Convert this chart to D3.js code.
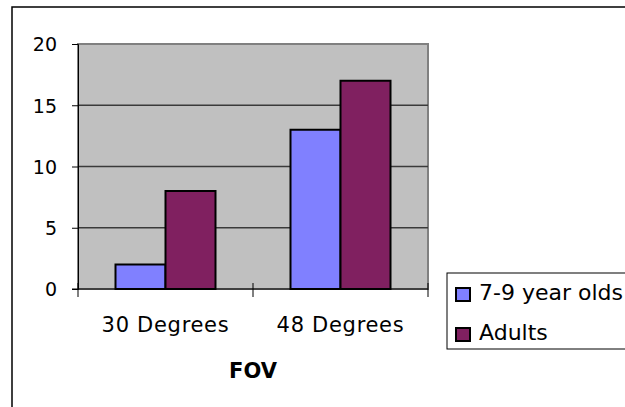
<!DOCTYPE html>
<html>
<head>
<meta charset="utf-8">
<script src="https://cdn.jsdelivr.net/npm/d3@7"></script>
<style>
  html, body { margin: 0; padding: 0; background: #fff; }
  svg { display: block; }
  text { font-family: "DejaVu Sans", Verdana, sans-serif; fill: #000; }
</style>
</head>
<body>
<svg id="chart" width="625" height="407"></svg>
<script>
// Chart data
const categories = ["30 Degrees", "48 Degrees"];
const seriesNames = ["7-9 year olds", "Adults"];
const kids = [2, 13];
const adults = [8, 17];
const yTicks = [0, 5, 10, 15, 20];
const xTitle = "FOV";
const colors = ["#8080FF", "#802060"];

const svg = d3.select("#chart");

// Outer chart frame (only top and left edges fall inside the view)
svg.append("rect")
  .attr("x", 12).attr("y", 7)
  .attr("width", 700).attr("height", 500)
  .attr("fill", "none").attr("stroke", "#000").attr("stroke-width", 1.5);

const plot = { left: 78, top: 44, right: 428, bottom: 289 };

const x = d3.scaleBand()
  .domain(categories)
  .range([plot.left, plot.right])
  .paddingInner(0).paddingOuter(0);

const x1 = d3.scaleBand()
  .domain(seriesNames)
  .range([0, x.bandwidth()])
  .paddingInner(0)
  .paddingOuter(0.75);

const y = d3.scaleLinear().domain([0, 20]).range([plot.bottom, plot.top]);

// Plot area
svg.append("rect")
  .attr("x", plot.left).attr("y", plot.top)
  .attr("width", plot.right - plot.left).attr("height", plot.bottom - plot.top)
  .attr("fill", "#C0C0C0").attr("stroke", "#808080").attr("stroke-width", 2);

// Gridlines
svg.append("g").selectAll("line")
  .data(yTicks.filter(d => d > 0 && d < 20))
  .join("line")
  .attr("x1", plot.left).attr("x2", plot.right)
  .attr("y1", d => y(d)).attr("y2", d => y(d))
  .attr("stroke", "#3a3a3a").attr("stroke-width", 1.5);

// Bars
const series = [kids, adults];
const groups = svg.append("g").selectAll("g")
  .data(categories)
  .join("g")
  .attr("transform", d => `translate(${x(d)},0)`);

groups.selectAll("rect")
  .data((c, i) => seriesNames.map((s, j) => ({ s, v: series[j][i], j })))
  .join("rect")
  .attr("x", d => x1(d.s))
  .attr("y", d => y(d.v))
  .attr("width", x1.bandwidth())
  .attr("height", d => y(0) - y(d.v))
  .attr("fill", d => colors[d.j])
  .attr("stroke", "#000").attr("stroke-width", 2);

// Y axis
const yAxis = d3.axisLeft(y).tickValues(yTicks).tickSize(6).tickPadding(15);
const yg = svg.append("g")
  .attr("transform", `translate(${plot.left},0)`)
  .call(yAxis);
yg.select(".domain").attr("stroke", "#000").attr("stroke-width", 1);
yg.selectAll(".tick line").attr("stroke", "#000");
yg.selectAll(".tick text")
  .style("font-size", "19px").style("font-family", "'DejaVu Sans', sans-serif")
  .attr("dy", "0.36em").attr("fill", "#000");

// X axis
const xAxis = d3.axisBottom(x).tickSize(0).tickPadding(28);
const xg = svg.append("g")
  .attr("transform", `translate(0,${plot.bottom})`)
  .call(xAxis);
xg.select(".domain").remove();
xg.selectAll(".tick text")
  .style("font-size", "21px").style("font-family", "'DejaVu Sans', sans-serif")
  .style("letter-spacing", "0.7px")
  .attr("fill", "#000");
svg.append("line")
  .attr("x1", plot.left - 6).attr("x2", plot.right)
  .attr("y1", plot.bottom).attr("y2", plot.bottom)
  .attr("stroke", "#000").attr("stroke-width", 1);
// Category separator ticks
const sepTicks = [plot.left, ...categories.slice(1).map(c => x(c)), plot.right];
svg.append("g").selectAll("line")
  .data(sepTicks)
  .join("line")
  .attr("x1", d => d).attr("x2", d => d)
  .attr("y1", plot.bottom - 6).attr("y2", plot.bottom + 8)
  .attr("stroke", "#000");

// Axis title
svg.append("text")
  .attr("x", (plot.left + plot.right) / 2)
  .attr("y", 378)
  .attr("text-anchor", "middle")
  .style("font-size", "21px").style("font-weight", "bold")
  .text(xTitle);

// Legend
const lg = svg.append("g");
lg.append("rect")
  .attr("x", 447).attr("y", 273)
  .attr("width", 200).attr("height", 76)
  .attr("fill", "#fff").attr("stroke", "#000").attr("stroke-width", 1);
const items = lg.selectAll("g.item")
  .data(seriesNames)
  .join("g").attr("class", "item")
  .attr("transform", (d, i) => `translate(456,${300 + i * 40})`);
items.append("rect")
  .attr("x", 0).attr("y", -12)
  .attr("width", 14).attr("height", 13)
  .attr("fill", (d, i) => colors[i])
  .attr("stroke", "#000").attr("stroke-width", 2);
items.append("text")
  .attr("x", 23).attr("y", 0)
  .style("font-size", "22px")
  .text(d => d);
</script>
</body>
</html>
